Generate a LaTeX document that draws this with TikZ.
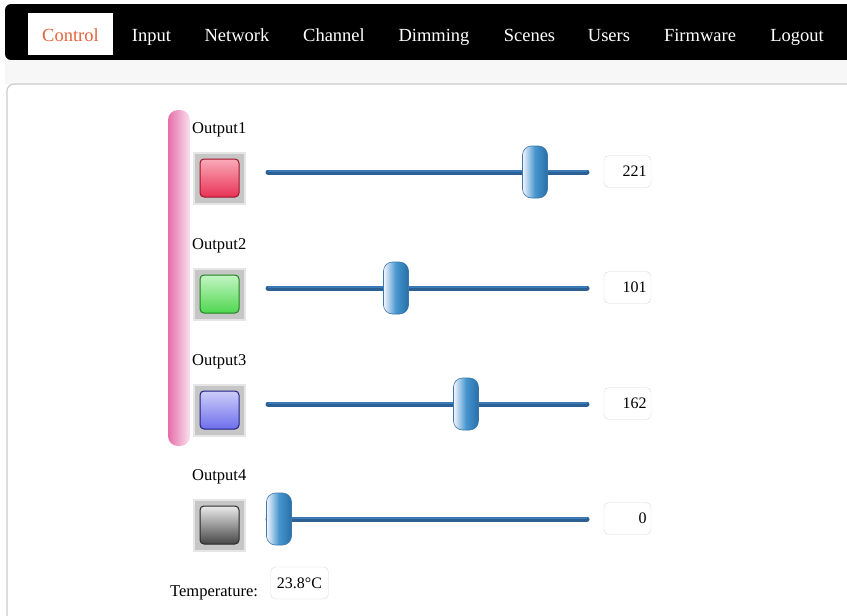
\documentclass[tikz,border=0pt]{standalone}
\usepackage{fontspec}
\setmainfont{Liberation Serif}
\begin{document}
\begin{tikzpicture}[x=1pt,y=-1pt,
  navtxt/.style={font=\fontsize{18.5}{20}\selectfont, text=white, anchor=base, inner sep=0},
  lbl/.style={font=\fontsize{16.5}{18}\selectfont, anchor=base west, inner sep=0},
  valbox/.style={draw=gray!30, fill=white, rounded corners=5pt, text width=38pt, minimum height=32pt, align=right, font=\fontsize{16}{18}\selectfont, inner xsep=4.5pt, inner ysep=0},
  track/.style={line width=5pt, draw={rgb,255:red,44;green,96;blue,146}, line cap=round},
  trackhi/.style={line width=2pt, draw={rgb,255:red,58;green,122;blue,184}},
  thumb/.style={rounded corners=9pt, left color=white!80!blue!20, right color={rgb,255:red,40;green,110;blue,170}, middle color={rgb,255:red,70;green,150;blue,205}, draw={rgb,255:red,60;green,120;blue,170}, line width=0.6pt},
  outerbtn/.style={fill=gray!45, draw=gray!20, line width=2pt},
  innerbtn/.style={rounded corners=4pt, line width=1pt}
]
\useasboundingbox (0,0) rectangle (847,616);
\fill[white] (0,0) rectangle (847,616);
% nav bar
\fill[black, rounded corners=6pt] (5,4) rectangle (860,60);
\fill[gray!6] (5,60) rectangle (847,84);
\fill[white] (28,13) rectangle (113,55);
\node[navtxt, text={rgb,255:red,226;green,100;blue,60}] (nc) at (70.5,41) {Control};
\node[navtxt] (ni) at (151.5,41) {Input};
\node[navtxt] (nn) at (237,41) {Network};
\node[navtxt] (nch) at (334,41) {Channel};
\node[navtxt] (nd) at (434,41) {Dimming};
\node[navtxt] (ns) at (529.5,41) {Scenes};
\node[navtxt] (nu) at (609,41) {Users};
\node[navtxt] (nf) at (700,41) {Firmware};
\node[navtxt] (nl) at (797,41) {Logout};
% panel
\draw[gray!40, line width=1.2pt, fill=white, rounded corners=7pt] (7,640) -- (7,84) -- (860,84);
% pink bar
\shade[rounded corners=10pt, left color={rgb,255:red,230;green,110;blue,170}, right color={rgb,255:red,250;green,225;blue,238}] (168,110) rectangle (190,446);
% rows
\foreach \i/\y/\tx/\v/\top/\bot/\edge in {
  1/0/535/221/{rgb,255:red,250;green,170;blue,185}/{rgb,255:red,232;green,50;blue,85}/{rgb,255:red,160;green,20;blue,40},
  2/116/396/101/{rgb,255:red,195;green,245;blue,195}/{rgb,255:red,80;green,215;blue,80}/{rgb,255:red,30;green,130;blue,30},
  3/232/466/162/{rgb,255:red,205;green,205;blue,250}/{rgb,255:red,110;green,110;blue,235}/{rgb,255:red,30;green,30;blue,130},
  4/347/279/0/{rgb,255:red,235;green,235;blue,235}/{rgb,255:red,70;green,70;blue,70}/{rgb,255:red,40;green,40;blue,40}} {
  \node[lbl] (lab\i) at (192,133+\y) {Output\i};
  \draw[outerbtn] (194,153+\y) rectangle (245,204+\y);
  \shade[innerbtn, top color=\top, bottom color=\bot, draw=\edge] (200,159+\y) rectangle (239,197+\y);
  \draw[track] (268,172+\y) -- (587,172+\y);
  \draw[trackhi] (268,170.5+\y) -- (587,170.5+\y);
  \shade[thumb] (\tx-12.5,146+\y) rectangle (\tx+12.5,198+\y);
  \node[valbox] (val\i) at (627.5,171.5+\y) {\v};
}
% temperature
\node[lbl] (tl) at (170,596) {Temperature:};
\node[valbox, text width=52pt, align=center, inner xsep=3pt] (tv) at (299.5,583) {23.8°C};
\end{tikzpicture}
\end{document}
